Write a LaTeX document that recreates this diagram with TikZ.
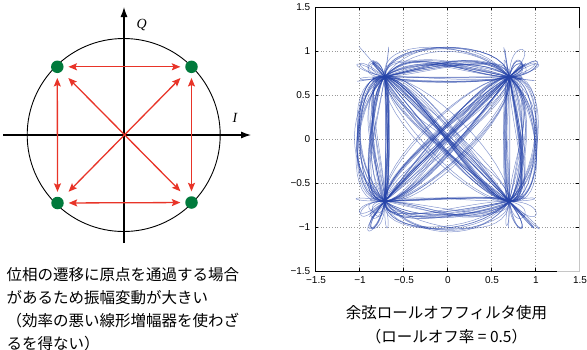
\documentclass[tikz,border=0pt]{standalone}
\usepackage{fontspec}
\setmainfont{Liberation Serif}
\newfontfamily\jpfont{Noto Sans CJK JP}
\newfontfamily\tickfont{Liberation Sans}
\usetikzlibrary{arrows.meta}

\definecolor{redarrow}{RGB}{232,52,40}
\definecolor{dotgreen}{RGB}{0,122,60}
\definecolor{tracecol}{RGB}{36,66,168}

% ---------- random QPSK symbol sequence ----------
\newcount\RCk \newcount\RCN \newcount\RCd \newcount\RCkk \newcount\RCj
\newdimen\RCx \newdimen\RCy
\RCN=330
\pgfmathsetseed{2718}
\RCk=0
\loop
 \advance\RCk by 1
 \pgfmathrandominteger{\RCr}{0}{1}%
 \expandafter\edef\csname RCI\the\RCk\endcsname{\ifdim\RCr pt<0.5pt -\else +\fi}%
 \pgfmathrandominteger{\RCr}{0}{1}%
 \expandafter\edef\csname RCQ\the\RCk\endcsname{\ifdim\RCr pt<0.5pt -\else +\fi}%
\ifnum\RCk<\RCN\repeat

% ---------- raised cosine pulse table (beta = 0.5, 16 samples / symbol) ----------
\foreach \pd in {-6,...,6}{%
  \foreach \pj in {0,...,15}{%
    \ifnum\pj=0
      \ifnum\pd=0 \def\RChv{1}\else\def\RChv{0}\fi
    \else
      \pgfmathsetmacro\RCt{\pd+\pj/16}%
      \pgfmathsetmacro\RChv{sin(180*(\RCt))/(pi*(\RCt))*cos(90*(\RCt))/(1-(\RCt)*(\RCt))}%
    \fi
    \pgfmathsetmacro\RChx{\RChv*62.225}%
    \expandafter\xdef\csname RCH\pd @\pj\endcsname{\RChx}%
  }%
}

\def\RCsample#1#2{\RCx=0pt \RCy=0pt \RCd=-6 \RCsampleloop{#1}{#2}}
\def\RCsampleloop#1#2{%
  \ifnum\RCd<7
    \RCkk=#1\relax \advance\RCkk by -\RCd
    \advance\RCx by \csname RCI\the\RCkk\endcsname\csname RCH\the\RCd @#2\endcsname pt\relax
    \advance\RCy by \csname RCQ\the\RCkk\endcsname\csname RCH\the\RCd @#2\endcsname pt\relax
    \advance\RCd by 1
    \RCsampleloop{#1}{#2}%
  \fi}
\def\RCbuild#1{%
  \gdef\RCpath{}%
  \RCj=0
  \RCbuildloop{#1}%
  \RCkk=#1\relax \advance\RCkk by 1
  \edef\RCnext{\the\RCkk}%
  \RCsample{\RCnext}{0}%
  \xdef\RCpath{\RCpath(\the\RCx,\the\RCy)}}
\def\RCbuildloop#1{%
  \ifnum\RCj<16
    \edef\RCjj{\the\RCj}%
    \RCsample{#1}{\RCjj}%
    \xdef\RCpath{\RCpath(\the\RCx,\the\RCy)--}%
    \advance\RCj by 1
    \RCbuildloop{#1}%
  \fi}

\begin{document}
\begin{tikzpicture}[x=1pt,y=-1pt,
  cdot/.style={circle,fill=dotgreen,inner sep=0pt,minimum size=12.5pt},
  rarrow/.style={draw=redarrow,line width=1.3pt,
    arrows={Stealth[length=8.5pt,width=7pt,inset=1.5pt]-Stealth[length=8.5pt,width=7pt,inset=1.5pt]}},
  axline/.style={draw=black,line width=1.1pt,arrows={-Latex[length=10pt,width=7pt]}},
  jptext/.style={font=\jpfont\fontsize{15.5}{18}\selectfont,inner sep=0pt},
  ticklab/.style={font=\tickfont\fontsize{10}{10}\selectfont,inner sep=0pt},
  gridline/.style={draw=gray!80,line width=0.5pt,dash pattern=on 0.8pt off 2pt},
  iqtrace/.style={draw=tracecol,line width=0.5pt,draw opacity=0.55,line join=round}]
\useasboundingbox (0,0) rectangle (587,349);

% ================= left: QPSK constellation =================
\coordinate (O) at (124,135);
\coordinate (xl) at (3,135);
\coordinate (xr) at (251,135);
\coordinate (yb) at (124,243);
\coordinate (yt) at (124,7);
\draw[line width=0.9pt] (123.7,135) circle[radius=96.5];
\draw[axline] (xl) -- (xr);
\draw[axline] (yb) -- (yt);
\node[font=\fontsize{14}{14}\selectfont\itshape] (Qlab) at (141.7,25) {Q};
\node[font=\fontsize{14}{14}\selectfont\itshape] (Ilab) at (235,118) {I};

\node[cdot] (A) at (57.3,66.8) {};
\node[cdot] (B) at (191.5,66.8) {};
\node[cdot] (C) at (57.5,203) {};
\node[cdot] (D) at (191.5,202.5) {};

\draw[rarrow,shorten <=4.7pt,shorten >=4.7pt] (A) -- (B);
\draw[rarrow,shorten <=4.7pt,shorten >=4.7pt] (C) -- (D);
\draw[rarrow,shorten <=4.7pt,shorten >=4.7pt] (A) -- (C);
\draw[rarrow,shorten <=4.7pt,shorten >=4.7pt] (B) -- (D);
\draw[rarrow,shorten <=9.3pt,shorten >=9.3pt] (A) -- (D);
\draw[rarrow,shorten <=9.3pt,shorten >=9.3pt] (B) -- (C);

\node[jptext,anchor=base west] (t1) at (6.5,280.5) {位相の遷移に原点を通過する場合};
\node[jptext,anchor=base west] (t2) at (6.5,303.5) {があるため振幅変動が大きい};
\node[jptext,anchor=base west] (t3) at (6.5,326.5) {（効率の悪い線形増幅器を使わざ};
\node[jptext,anchor=base west] (t4) at (6.5,349.5) {るを得ない）};

% ================= right: trajectory plot =================
\foreach \v in {-1,-0.5,0,0.5,1}{
  \draw[gridline] ({447+88*\v},7) -- ({447+88*\v},271);
  \draw[gridline] (315,{139-88*\v}) -- (579,{139-88*\v});
}
\begin{scope}
  \clip (315,7) rectangle (579,271);
  \begin{scope}[shift={(447,139)}]
    \foreach \n in {7,...,323}{%
      \RCbuild{\n}%
      \edef\RCtmp{\noexpand\draw[iqtrace] \RCpath;}\RCtmp
    }
  \end{scope}
\end{scope}
% ticks
\foreach \v in {-1.5,-1,-0.5,0,0.5,1,1.5}{
  \draw[line width=0.6pt] ({447+88*\v},271) -- ({447+88*\v},268);
  \draw[line width=0.6pt] ({447+88*\v},7) -- ({447+88*\v},10);
  \draw[line width=0.6pt] (315,{139-88*\v}) -- (318,{139-88*\v});
  \draw[line width=0.6pt] (579,{139-88*\v}) -- (576,{139-88*\v});
}
% box
\draw[line width=0.8pt] (579,7) -- (315,7) -- (315,271) -- (557,271);
\draw[line width=0.8pt,gray!45] (557,271) -- (579,271) -- (579,28);
\draw[line width=0.8pt] (579,7) -- (579,28);

% tick labels
\foreach \v/\t in {-1.5/−1.5,-1/−1,-0.5/−0.5,0/0,0.5/0.5,1/1,1.5/1.5}{
  \node[ticklab,anchor=base] at ({447+88*\v+1},283.5) {\t};
  \node[ticklab,anchor=east] at (310.5,{139-88*\v}) {\t};
}

\node[jptext,anchor=base] (c1) at (446.5,318) {余弦ロールオフフィルタ使用};
\node[jptext,anchor=base] (c2) at (446.5,342) {（ロールオフ率 = 0.5）};
\end{tikzpicture}
\end{document}
